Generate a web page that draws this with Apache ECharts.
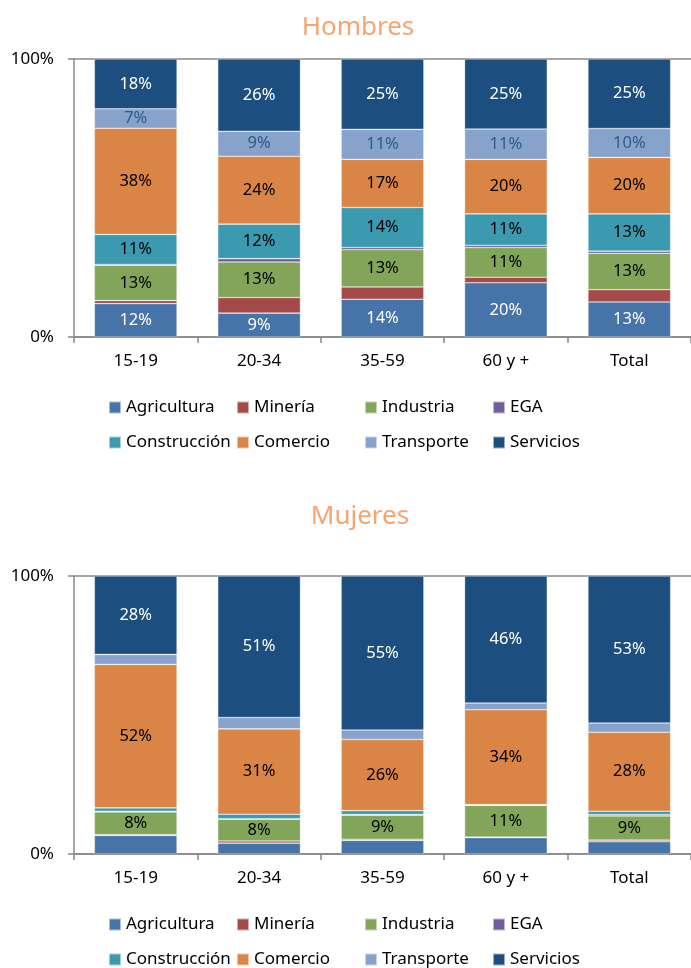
<!DOCTYPE html>
<html>
<head>
<meta charset="utf-8">
<script src="https://cdn.jsdelivr.net/npm/echarts@6/dist/echarts.min.js"></script>
<style>
html,body{margin:0;padding:0;background:#fff;}
#chart{width:691px;height:968px;}
</style>
</head>
<body>
<div id="chart"></div>
<script>
const categories = ['15-19', '20-34', '35-59', '60 y +', 'Total'];
const sectors = ['Agricultura', 'Minería', 'Industria', 'EGA', 'Construcción', 'Comercio', 'Transporte', 'Servicios'];
const yTickLabels = ['0%', '100%'];
const titles = ['Hombres', 'Mujeres'];

// Hombres (% of employed by sector)
const hAgricultura  = [12.0, 8.6, 13.6, 19.5, 12.6];
const hMineria      = [1.1, 5.6, 4.4, 2.0, 4.4];
const hIndustria    = [12.7, 12.8, 13.4, 10.7, 13.1];
const hEGA          = [0.3, 1.2, 0.8, 0.8, 0.8];
const hConstruccion = [10.8, 12.4, 14.4, 11.3, 13.4];
const hComercio     = [38.2, 24.4, 17.3, 19.6, 20.3];
const hTransporte   = [7.0, 9.0, 10.8, 10.9, 10.4];
const hServicios    = [17.9, 26.0, 25.3, 25.2, 25.0];

// Mujeres
const mAgricultura  = [6.7, 3.9, 4.9, 5.9, 4.4];
const mMineria      = [0.3, 0.8, 0.4, 0.2, 0.6];
const mIndustria    = [8.1, 7.8, 8.7, 11.4, 8.7];
const mEGA          = [0.3, 0.2, 0.2, 0.1, 0.5];
const mConstruccion = [1.2, 1.6, 1.4, 0.2, 1.2];
const mComercio     = [51.6, 30.7, 25.6, 34.1, 28.4];
const mTransporte   = [3.6, 4.1, 3.4, 2.4, 3.3];
const mServicios    = [28.2, 50.9, 55.4, 45.7, 52.9];

const hombresData = [hAgricultura, hMineria, hIndustria, hEGA, hConstruccion, hComercio, hTransporte, hServicios];
const mujeresData = [mAgricultura, mMineria, mIndustria, mEGA, mConstruccion, mComercio, mTransporte, mServicios];

const colors = ['#4673A8', '#A54A48', '#82A55A', '#715E9B', '#3B9AAF', '#DA8445', '#87A3CB', '#1C4F7F'];
const labelColors = ['#ffffff', '#000', '#000', '#000', '#000', '#000', '#2E5A8A', '#ffffff'];
const FONT = 'Noto Sans';

const chart = echarts.init(document.getElementById('chart'), null, {renderer: 'canvas'});

function makeSeries(data, gi) {
  return sectors.map((name, i) => ({
    name: name,
    type: 'bar',
    stack: 'g' + gi,
    xAxisIndex: gi,
    yAxisIndex: gi,
    barCategoryGap: '33%',
    data: data[i],
    itemStyle: {color: colors[i], borderColor: 'rgba(255,255,255,0.55)', borderWidth: 0.6},
    label: {
      show: true,
      position: 'inside',
      color: labelColors[i],
      fontFamily: FONT,
      fontSize: 16.5,
      formatter: p => (p.value >= 7 ? Math.round(p.value) + '%' : '')
    },
    emphasis: {disabled: true}
  }));
}

const grids = [
  {left: 74, top: 59, width: 622.5, height: 278},
  {left: 74, top: 576, width: 622.5, height: 278}
];

function xAxis(gi) {
  return {
    type: 'category', gridIndex: gi, data: categories,
    axisLine: {lineStyle: {color: '#888', width: 1.5}},
    axisTick: {show: true, length: 6, lineStyle: {color: '#888', width: 1.5}},
    axisLabel: {color: '#000', fontFamily: FONT, fontSize: 17, margin: 16}
  };
}
function yAxis(gi) {
  return {
    type: 'value', gridIndex: gi, min: 0, max: 100, interval: 100,
    axisLine: {show: true, lineStyle: {color: '#888', width: 1.5}},
    axisTick: {show: true, length: 6, lineStyle: {color: '#888', width: 1.5}},
    splitLine: {show: true, lineStyle: {color: '#888', width: 1.5}},
    axisLabel: {color: '#000', fontFamily: FONT, fontSize: 17, margin: 20,
      formatter: v => (v === 0 ? yTickLabels[0] : yTickLabels[1])}
  };
}

function legend(top) {
  return {
    left: 103, top: top, width: 530,
    orient: 'horizontal',
    itemWidth: 12, itemHeight: 12, itemGap: 0,
    icon: 'rect',
    data: sectors,
    selectedMode: false,
    textStyle: {color: '#000', fontFamily: FONT, fontSize: 17, width: 110, lineHeight: 35}
  };
}

chart.setOption({
  animation: false,
  color: colors,
  title: [
    {text: titles[0], left: 353, top: 10, textAlign: 'center',
      textStyle: {color: '#F7A46F', fontFamily: FONT, fontSize: 26, fontWeight: 'normal'}},
    {text: titles[1], left: 355, top: 499, textAlign: 'center',
      textStyle: {color: '#F7A46F', fontFamily: FONT, fontSize: 26, fontWeight: 'normal'}}
  ],
  grid: grids,
  xAxis: [xAxis(0), xAxis(1)],
  yAxis: [yAxis(0), yAxis(1)],
  legend: [legend(385), legend(902)],
  series: makeSeries(hombresData, 0).concat(makeSeries(mujeresData, 1))
});
</script>
</body>
</html>
